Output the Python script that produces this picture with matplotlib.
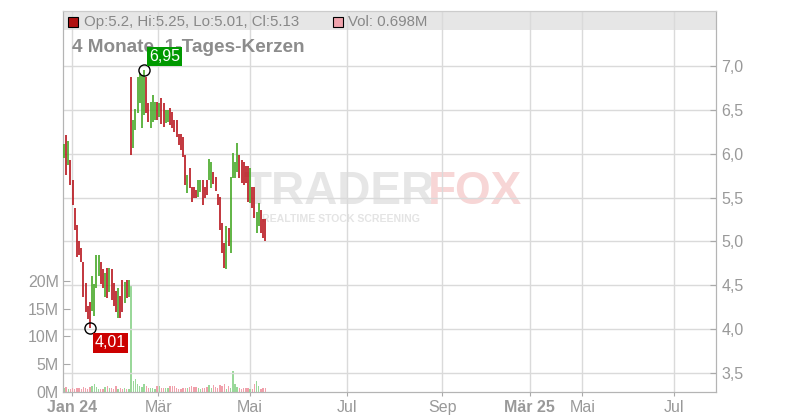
import matplotlib
matplotlib.use('Agg')
from matplotlib import pyplot as plt
from matplotlib.patches import Rectangle
import numpy as np

plt.rcParams['font.family'] = ['Liberation Sans', 'DejaVu Sans']

# daily bars (high / low / close>open)
highs = [6.11, 6.21, 6.15, 5.93, 5.70, 5.38, 5.19, 5.01, 4.93, 4.76,
         4.53, 4.26, 4.31, 4.60, 4.52, 4.84, 4.85, 4.77, 4.69, 4.64,
         4.70, 4.70, 4.68, 4.53, 4.43, 4.47, 4.38, 4.56, 4.54, 4.56,
         4.56,
         6.88, 6.38, 6.51, 6.88, 6.92, 6.90, 6.95, 6.88, 6.58, 6.59,
         6.67, 6.59, 6.59, 6.58, 6.64, 6.58, 6.50, 6.50, 6.52, 6.48,
         6.38, 6.38, 6.23, 6.23, 6.19, 5.99, 5.76, 5.84, 5.62, 5.62,
         5.59, 5.70, 5.70, 5.70, 5.62, 5.70, 5.94, 5.90, 5.79, 5.74,
         5.54, 5.51, 5.21, 4.98, 5.17, 5.15, 5.74, 6.01, 5.90, 6.12,
         5.99, 5.93, 5.90, 5.86, 5.86, 5.84, 5.62, 5.62, 5.33, 5.44,
         5.36, 5.25, 5.25]
lows = [5.95, 5.76, 5.87, 5.64, 5.42, 5.13, 4.82, 4.85, 4.76, 4.37,
        4.20, 4.11, 4.01, 4.21, 4.15, 4.47, 4.60, 4.51, 4.47, 4.37,
        4.36, 4.42, 4.33, 4.26, 4.20, 4.13, 4.13, 4.20, 4.30, 4.36,
        4.37,
        5.99, 6.07, 6.27, 6.46, 6.58, 6.29, 6.44, 6.46, 6.36, 6.29,
        6.36, 6.38, 6.38, 6.42, 6.34, 6.31, 6.35, 6.36, 6.33, 6.29,
        6.25, 6.19, 6.10, 6.04, 5.96, 5.64, 5.55, 5.61, 5.45, 5.49,
        5.50, 5.51, 5.56, 5.42, 5.49, 5.53, 5.70, 5.61, 5.66, 5.58,
        5.41, 5.13, 4.87, 4.70, 4.69, 4.95, 4.87, 5.72, 5.72, 5.79,
        5.72, 5.67, 5.64, 5.67, 5.45, 5.44, 5.38, 5.27, 5.10, 5.17,
        5.10, 5.04, 5.01]
up = ('ududddddddddduuuuddududdduddudu'
      'duuuuuudduuududduudddddddduddd'
      'duuddduudddddduduuuudddddudduuddd')[:len(highs)]

# volume in millions
volumes = [0.7, 0.9, 0.6, 0.5, 0.8, 0.6, 0.8, 0.7, 0.6, 0.9,
           0.8, 0.5, 0.9, 1.1, 1.5, 0.9, 0.6, 0.6, 0.5, 0.9,
           1.0, 0.7, 0.8, 0.6, 1.0, 0.6, 0.7, 0.6, 0.7, 0.5,
           0.6,
           19.2, 2.0, 2.3, 1.5, 1.0, 0.9, 1.4, 1.0, 0.8, 0.8,
           0.7, 0.6, 1.1, 1.1, 0.7, 0.8, 0.8, 0.8, 1.1, 1.0,
           1.0, 0.8, 0.6, 0.6, 0.8, 0.8, 0.8, 0.9, 1.0, 0.9,
           0.9, 0.7, 0.6, 0.7, 0.8, 0.9, 1.2, 0.8, 1.3, 0.9,
           0.8, 1.3, 1.0, 1.5, 0.6, 1.0, 0.7, 3.8, 1.5, 0.9,
           0.8, 0.6, 0.7, 0.8, 0.7, 0.6, 0.6, 1.5, 2.0, 1.0,
           0.6, 0.8, 0.698]
vol_up = ('ududddddddddduuuuddududdduddudu'
          'uuuuuuudduuududduudddddddduddd'
          'duuddduudddddduduuuudddddudduuddd')[:len(volumes)]

month_pos = [3.7, 43.6, 86.0, 130.6, 174.7, 215.1, 239.4, 281.6]
month_labels = ['Jan 24', 'Mär', 'Mai', 'Jul', 'Sep', 'Mär 25', 'Mai', 'Jul']
year_labels = ['Jan 24', 'Mär 25']

price_ticks = [3.5, 4.0, 4.5, 5.0, 5.5, 6.0, 6.5, 7.0]
vol_ticks = [0, 5, 10, 15, 20]

RED = '#b8141c'
GREEN = '#46a826'
VOL_RED = '#f0a0ab'
VOL_GREEN = '#9ad89a'
GRID = '#dadada'
TXT = '#999999'

fig = plt.figure(figsize=(8, 4.2), dpi=100)
ax = fig.add_axes([63 / 800, 28 / 420, 653 / 800, 381 / 420])
ax2 = ax.twinx()

x = np.arange(len(highs))
bar_cols = [GREEN if c == 'u' else RED for c in up]
vcols = [VOL_GREEN if c == 'u' else VOL_RED for c in vol_up]

ax.bar(x, volumes, width=0.62, color=vcols, linewidth=0, zorder=2)
ax2.vlines(x, lows, highs, colors=bar_cols, linewidth=1.2, zorder=3)

ax.set_xlim(-0.46, 301.2)
ax.set_ylim(0, 68.6)
ax2.set_ylim(3.283, 7.627)

ax.set_xticks(month_pos)
ax.set_xticklabels(month_labels)
for lab in ax.get_xticklabels():
    if lab.get_text() in year_labels:
        lab.set_fontweight('bold')
ax.set_yticks(vol_ticks)
ax.set_yticklabels(['%dM' % v for v in vol_ticks])
ax2.set_yticks(price_ticks)
ax2.set_yticklabels([('%.1f' % p).replace('.', ',') for p in price_ticks])

ax.tick_params(axis='x', direction='out', length=3, color='#aaaaaa',
               labelcolor=TXT, labelsize=11.5, pad=3)
ax.tick_params(axis='y', direction='in', length=5, color='#aaaaaa',
               labelcolor=TXT, labelsize=11.5, pad=3)
ax2.tick_params(axis='y', direction='in', length=4, color='#aaaaaa',
                labelcolor=TXT, labelsize=11.5, pad=4)

ax.grid(axis='x', color=GRID, linewidth=1)
ax.set_axisbelow(True)
ax2.grid(axis='y', color=GRID, linewidth=1)
ax2.set_axisbelow(True)

for a in (ax, ax2):
    for s in a.spines.values():
        s.set_color('#b4b4b4')
    a.spines['top'].set_color('#cccccc')

# header band with the ohlc legend
ax.add_patch(Rectangle((0, 0.95), 1, 0.05, transform=ax.transAxes,
                       facecolor='#e6e6e6', edgecolor='none', zorder=0.2))
ax.add_patch(Rectangle((5 / 653, 365 / 381), 10 / 653, 10 / 381,
                       transform=ax.transAxes, facecolor='#b01010',
                       edgecolor='black', linewidth=0.8, zorder=4))
ax.text(21 / 653, 370 / 381, 'Op:5.2, Hi:5.25, Lo:5.01, Cl:5.13',
        transform=ax.transAxes, va='center', ha='left', fontsize=10.8,
        color='#888888', zorder=4)
ax.add_patch(Rectangle((270 / 653, 365 / 381), 10 / 653, 10 / 381,
                       transform=ax.transAxes, facecolor='#f0a3ad',
                       edgecolor='black', linewidth=0.8, zorder=4))
ax.text(285 / 653, 370 / 381, 'Vol: 0.698M',
        transform=ax.transAxes, va='center', ha='left', fontsize=10.8,
        color='#888888', zorder=4)

ax.text(9 / 653, 344 / 381, '4 Monate, 1-Tages-Kerzen', transform=ax.transAxes,
        va='center', ha='left', fontsize=13.7, fontweight='bold',
        color='#8c8c8c', zorder=4)

# watermark
ax.text(0.304, 0.543, 'TRADER', transform=fig.transFigure, fontsize=33,
        fontweight='bold', color='#e6e6e6', va='center', ha='left', zorder=0.3)
ax.text(0.535, 0.543, 'FOX', transform=fig.transFigure, fontsize=33,
        fontweight='bold', color='#f7d6d6', va='center', ha='left', zorder=0.3)
ax.text(0.328, 0.478, 'REALTIME STOCK SCREENING', transform=fig.transFigure,
        fontsize=7.6, fontweight='bold', color='#e4e4e4', va='center',
        ha='left', zorder=0.3)

# extremes
i_hi = int(np.argmax(highs))
i_lo = int(np.argmin(lows))
ax2.plot([i_hi], [highs[i_hi]], 'o', mfc='none', mec='black', ms=8, mew=1,
         zorder=5)
ax2.plot([i_lo], [lows[i_lo]], 'o', mfc='none', mec='black', ms=8, mew=1,
         zorder=5)
ax2.annotate(('%.2f' % highs[i_hi]).replace('.', ','), xy=(i_hi, highs[i_hi]),
             xytext=(5, 6), textcoords='offset pixels', ha='left', va='bottom',
             color='white', fontsize=11.5,
             bbox=dict(boxstyle='square,pad=0.12', fc='#009900', ec='none'),
             zorder=6)
ax2.annotate(('%.2f' % lows[i_lo]).replace('.', ','), xy=(i_lo, lows[i_lo]),
             xytext=(5, -7), textcoords='offset pixels', ha='left', va='top',
             color='white', fontsize=11.5,
             bbox=dict(boxstyle='square,pad=0.15', fc='#cc0000', ec='none'),
             zorder=6)

plt.savefig('out.png', dpi=100)
plt.close()
